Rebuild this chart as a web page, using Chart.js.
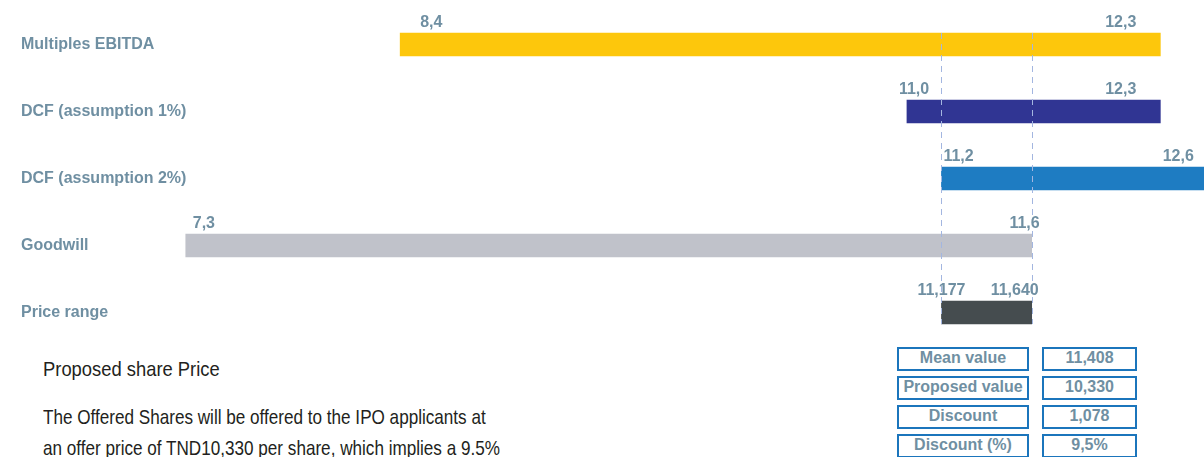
<!DOCTYPE html>
<html>
<head>
<meta charset="utf-8">
<script src="https://cdn.jsdelivr.net/npm/chart.js@4.4.1/dist/chart.umd.min.js"></script>
<style>
  html, body { margin: 0; padding: 0; background: #fff; }
  body { width: 1204px; height: 457px; position: relative; overflow: hidden; }
  #chartBox { position: absolute; left: 0; top: 0; width: 1204px; height: 346px; }
  .note {
    position: absolute; left: 43px; white-space: nowrap;
    font-family: 'Liberation Sans', Arial, sans-serif;
    font-size: 21px; color: #231f20;
    transform: scaleX(0.815); transform-origin: left top;
  }
  .note.head { transform: scaleX(0.875); }
  .cell {
    position: absolute; box-sizing: border-box; height: 24px;
    border: 2px solid #1b75bc; text-align: center; line-height: 22px;
    font: bold 16px 'Liberation Sans', Arial, sans-serif; color: #6f8fa2;
  }
</style>
</head>
<body>
<div id="chartBox"><canvas id="chart"></canvas></div>
<div class="note head" style="top:357px">Proposed share Price</div>
<div class="note" style="top:405px">The Offered Shares will be offered to the IPO applicants at</div>
<div class="note" style="top:436px">an offer price of TND10,330 per share, which implies a 9.5%</div>
<div id="summary"></div>

<script>
// valuation methods
const categories = ['Multiples EBITDA', 'DCF (assumption 1%)', 'DCF (assumption 2%)', 'Goodwill', 'Price range'];
const lowValues = [8.4, 11.0, 11.177, 7.3, 11.177];
const highValues = [12.3, 12.3, 12.6, 11.64, 11.64];
const lowLabels = ['8,4', '11,0', '11,2', '7,3', '11,177'];
const highLabels = ['12,3', '12,3', '12,6', '11,6', '11,640'];
const barColors = ['#fdc70c', '#303593', '#1e7cc2', '#c0c2ca', '#454c4f'];

// summary boxes under the chart
const summaryLabels = ['Mean value', 'Proposed value', 'Discount', 'Discount (%)'];
const summaryValues = ['11,408', '10,330', '1,078', '9,5%'];

const labelColor = '#6f8fa2';
const labelFont = 'bold 16px "Liberation Sans", Arial, sans-serif';

// category names on the left, drawn inside the plot area
const categoryLabels = {
  id: 'categoryLabels',
  afterDatasetsDraw(chart) {
    const ctx = chart.ctx;
    ctx.save();
    ctx.font = labelFont;
    ctx.fillStyle = labelColor;
    ctx.textAlign = 'left';
    ctx.textBaseline = 'middle';
    categories.forEach((name, i) => {
      ctx.fillText(name, 21, chart.scales.y.getPixelForValue(i));
    });
    ctx.restore();
  }
};

// dashed lines at the price range bounds
const guideLines = {
  id: 'guideLines',
  afterDatasetsDraw(chart) {
    const ctx = chart.ctx;
    const meta = chart.getDatasetMeta(0);
    const first = meta.data[0], last = meta.data[meta.data.length - 1];
    const top = first.y - first.height / 2;
    const bottom = last.y + last.height / 2;
    const i = categories.length - 1;
    ctx.save();
    ctx.strokeStyle = '#a3b6e0';
    ctx.lineWidth = 1;
    ctx.setLineDash([6, 5]);
    [lowValues[i], highValues[i]].forEach(v => {
      const x = Math.round(chart.scales.x.getPixelForValue(v)) + 0.5;
      ctx.beginPath();
      ctx.moveTo(x, top);
      ctx.lineTo(x, bottom);
      ctx.stroke();
    });
    ctx.restore();
  }
};

// value labels above both ends of each bar
const rangeLabels = {
  id: 'rangeLabels',
  afterDatasetsDraw(chart, args, opts) {
    const ctx = chart.ctx;
    ctx.save();
    ctx.font = labelFont;
    ctx.fillStyle = labelColor;
    chart.getDatasetMeta(0).data.forEach((bar, i) => {
      const left = Math.min(bar.x, bar.base);
      const right = Math.max(bar.x, bar.base);
      const y = bar.y - bar.height / 2 - 6;
      ctx.textAlign = opts.lowAlign[i];
      ctx.fillText(lowLabels[i], left + opts.lowShift[i], y);
      ctx.textAlign = 'right';
      ctx.fillText(highLabels[i], right + opts.highShift[i], y);
    });
    ctx.restore();
  }
};

new Chart(document.getElementById('chart'), {
  type: 'bar',
  data: {
    labels: categories,
    datasets: [{
      data: lowValues.map((v, i) => [v, highValues[i]]),
      backgroundColor: barColors,
      borderWidth: 0,
      borderSkipped: false,
      barThickness: 23,
    }],
  },
  options: {
    indexAxis: 'y',
    responsive: true,
    maintainAspectRatio: false,
    animation: false,
    layout: { padding: { top: 11, left: 0, right: 0, bottom: 0 } },
    scales: {
      x: { display: false, min: 6.347, max: 12.524 },
      y: { display: false },
    },
    plugins: {
      legend: { display: false },
      tooltip: { enabled: false },
      rangeLabels: {
        lowAlign: ['left', 'left', 'left', 'left', 'center'],
        lowShift: [20, -8, 2, 7, 0],
        highShift: [-24, -24, -25, 8, 7],
      },
    },
  },
  plugins: [categoryLabels, guideLines, rangeLabels],
});

// summary table
const summary = document.getElementById('summary');
summaryLabels.forEach((label, i) => {
  const top = 347 + i * 29;
  const a = document.createElement('div');
  a.className = 'cell';
  a.style.cssText = `left:897px;top:${top}px;width:132px`;
  a.textContent = label;
  const b = document.createElement('div');
  b.className = 'cell';
  b.style.cssText = `left:1042px;top:${top}px;width:95px`;
  b.textContent = summaryValues[i];
  summary.appendChild(a);
  summary.appendChild(b);
});
</script>
</body>
</html>
